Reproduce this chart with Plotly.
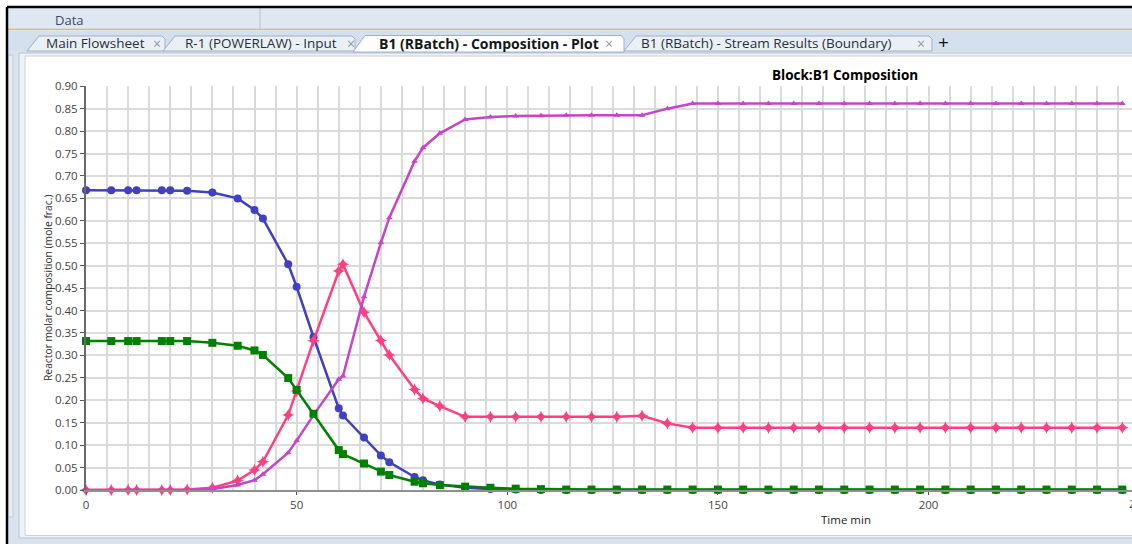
import plotly.graph_objects as go

W, H = 1132, 544

# Batch reactor composition profile (mole fractions vs time in minutes)
time_min = [0, 6, 10, 12, 18, 20, 24, 30, 36, 40, 42, 48, 50, 54, 60, 61, 66, 70, 72,
            78, 80, 84, 90, 96, 102, 108, 114, 120, 126, 132, 138, 144, 150, 156, 162,
            168, 174, 180, 186, 192, 198, 204, 210, 216, 222, 228, 234, 240, 246]

comp_a = [0.668, 0.668, 0.668, 0.668, 0.668, 0.668, 0.667, 0.663, 0.650, 0.624, 0.605,
          0.503, 0.453, 0.341, 0.182, 0.166, 0.117, 0.077, 0.062, 0.029, 0.022, 0.012,
          0.005, 0.002, 0.001, 0.0, 0.0, 0.0, 0.0, 0.0, 0.0, 0.0, 0.0, 0.0, 0.0, 0.0,
          0.0, 0.0, 0.0, 0.0, 0.0, 0.0, 0.0, 0.0, 0.0, 0.0, 0.0, 0.0, 0.0]

comp_b = [0.332, 0.332, 0.332, 0.332, 0.332, 0.332, 0.332, 0.328, 0.3215, 0.311, 0.301,
          0.2495, 0.223, 0.170, 0.089, 0.080, 0.059, 0.041, 0.0334, 0.0185, 0.015, 0.011,
          0.0074, 0.005, 0.003, 0.002, 0.001, 0.001, 0.001, 0.001, 0.001, 0.001, 0.001,
          0.001, 0.001, 0.001, 0.001, 0.001, 0.001, 0.001, 0.001, 0.001, 0.001, 0.001,
          0.001, 0.001, 0.001, 0.001, 0.001]

comp_c = [0.0, 0.0, 0.0, 0.0, 0.0, 0.0, 0.001, 0.005, 0.021, 0.0445, 0.063, 0.167,
          0.2205, 0.3326, 0.488, 0.503, 0.396, 0.333, 0.301, 0.224, 0.204, 0.187, 0.163,
          0.163, 0.163, 0.163, 0.163, 0.163, 0.163, 0.1655, 0.1485, 0.139, 0.139, 0.139,
          0.139, 0.139, 0.139, 0.139, 0.139, 0.139, 0.139, 0.139, 0.139, 0.139, 0.139,
          0.139, 0.139, 0.139, 0.139]

comp_d = [0.0, 0.0, 0.0, 0.0, 0.0, 0.0, 0.0, 0.002, 0.011, 0.022, 0.035, 0.083, 0.110,
          0.167, 0.247, 0.254, 0.431, 0.551, 0.607, 0.733, 0.763, 0.795, 0.826, 0.8316,
          0.8338, 0.834, 0.8354, 0.8354, 0.8354, 0.8354, 0.850, 0.8614, 0.8614, 0.8614,
          0.8614, 0.8614, 0.8614, 0.8614, 0.8614, 0.8614, 0.8614, 0.8614, 0.8614, 0.8614,
          0.8614, 0.8614, 0.8614, 0.8614, 0.8614]

y_ticks = [i * 0.05 for i in range(19)]
x_ticks = [0, 50, 100, 150, 200]

tab_titles = ["Main Flowsheet", "R-1 (POWERLAW) - Input",
              "B1 (RBatch) - Composition - Plot", "B1 (RBatch) - Stream Results (Boundary)"]

FONT = "Open Sans"


def px(x):
    return x / W


def py(y):
    return 1 - y / H


def rect(x0, y0, x1, y1, fill, line=None, lw=1):
    return dict(type="rect", xref="paper", yref="paper", layer="below",
                x0=px(x0), x1=px(x1), y0=py(y1), y1=py(y0),
                fillcolor=fill,
                line=dict(color=line if line else fill, width=lw if line else 0))


def seg(x0, y0, x1, y1, color, lw=1):
    return dict(type="line", xref="paper", yref="paper", layer="below",
                x0=px(x0), x1=px(x1), y0=py(y0), y1=py(y1),
                line=dict(color=color, width=lw))


def poly(points, fill, line):
    d = "M " + " L ".join(f"{px(x):.5f} {py(y):.5f}" for x, y in points) + " Z"
    return dict(type="path", xref="paper", yref="paper", layer="below", path=d,
                fillcolor=fill, line=dict(color=line, width=1))


shapes = []
# application ribbon strip
shapes.append(rect(8, 8, W, 29, "#dfe7f2"))
shapes.append(seg(260, 8, 260, 29, "#b4c1d2", 1))
shapes.append(seg(8, 29.5, W, 29.5, "#e3b865", 1.5))
# tab strip
shapes.append(rect(8, 30.5, W, 52, "#d4e0ee"))
# document frame
shapes.append(rect(8, 51, W, H, "#d9e3ee"))
shapes.append(rect(8, 55, 13, 517, "#e8ebef", "#c3cad3"))
shapes.append(rect(19, 53, W + 5, 538, "#eef3f8", "#b6c3d2"))
shapes.append(rect(25, 56, W + 5, 535.5, "#ffffff", "#c8d0da"))
# tabs
tab_geo = [(27, 165), (163, 355), (624, 932)]
for x0, x1 in tab_geo:
    shapes.append(poly([(x0, 51), (x0 + 12, 36), (x1 - 3, 36), (x1, 39), (x1, 51)],
                       "#ebf0f7", "#9eb0c6"))
shapes.append(poly([(353, 52), (365, 35.5), (621, 35.5), (624, 38.5), (624, 52)],
                   "#ffffff", "#9eb0c6"))
# window border
shapes.append(seg(7, 7, W, 7, "#000000", 2.5))
shapes.append(seg(7, 7, 7, H, "#000000", 2.5))

annotations = []


def label(text, x, y, size=12, color="#1f2b3a", bold=False, xanchor="left", **kw):
    if bold:
        text = f"<b>{text}</b>"
    annotations.append(dict(text=text, x=px(x), y=py(y), xref="paper", yref="paper",
                            xanchor=xanchor, yanchor="middle", showarrow=False,
                            font=dict(family=FONT, size=size, color=color), **kw))


label("Data", 53, 20, size=13, color="#3a4a60")
tab_text_x = [44, 183, 377, 639]
tab_close_x = [157, 351, 609, 921]
for i, (t, tx, cx) in enumerate(zip(tab_titles, tab_text_x, tab_close_x)):
    label(t, tx, 43, size=14 if i == 2 else 13.5, bold=(i == 2),
          color="#111820" if i == 2 else "#24303e")
    label("×", cx, 43, size=14, color="#8d97a3", xanchor="center")
label("+", 943, 42, size=19, color="#111111", xanchor="center")

# chart title and axis titles
label("Block:B1 Composition", 845, 75, size=13.5, bold=True, color="#000000", xanchor="center")
label("Time min", 846, 519, size=11.5, color="#222222", xanchor="center")
annotations.append(dict(text="Reactor molar composition (mole frac.)", x=px(48), y=py(288),
                        xref="paper", yref="paper", xanchor="center", yanchor="middle",
                        textangle=-90, showarrow=False,
                        font=dict(family=FONT, size=10.3, color="#333333")))
# last x tick label sits at the cut edge of the plot window
x_per_min = (W - 86) / 248.3
label("250", 86 + 250 * x_per_min, 503, size=11.5, color="#444444", xanchor="center")

fig = go.Figure()

series = [
    ("A", comp_a, "#4040c0", "circle", 8),
    ("C", comp_c, "#ff3f82", "star-diamond", 9),
    ("D", comp_d, "#c445c8", "triangle-up", 6),
    ("B", comp_b, "#008000", "square", 8),
]
for name, vals, color, symbol, size in series:
    fig.add_trace(go.Scatter(
        x=time_min, y=vals, name=name, mode="lines+markers",
        line=dict(color=color, width=2.5),
        marker=dict(symbol=symbol, size=size, color=color, line=dict(width=0)),
        cliponaxis=False, showlegend=False,
    ))

grid_col = "#dadada"
fig.update_layout(
    width=W, height=H,
    margin=dict(l=0, r=0, t=0, b=0, pad=0, autoexpand=False),
    paper_bgcolor="#ffffff",
    plot_bgcolor="rgba(0,0,0,0)",
    shapes=shapes,
    annotations=annotations,
    showlegend=False,
    xaxis=dict(
        domain=[px(86), 1.0], range=[0, 248.3],
        tickmode="array", tickvals=x_ticks, ticktext=[str(v) for v in x_ticks],
        showgrid=True, gridcolor=grid_col, gridwidth=1.5,
        minor=dict(dtick=5, tick0=0, showgrid=True, gridcolor=grid_col, gridwidth=1.5),
        showline=True, linecolor="#8f8f8f", linewidth=2,
        ticks="outside", ticklen=3, tickcolor="#555555",
        zeroline=False, automargin=False,
        tickfont=dict(family=FONT, size=11.5, color="#444444"),
    ),
    yaxis=dict(
        domain=[1 - 490 / H, 1 - 86 / H], range=[0, 0.9005],
        tickmode="array", tickvals=y_ticks, ticktext=[f"{v:.2f}" for v in y_ticks],
        showgrid=True, gridcolor=grid_col, gridwidth=1.5,
        showline=True, linecolor="#6a6a6a", linewidth=2,
        ticks="outside", ticklen=4, tickcolor="#555555",
        zeroline=False, automargin=False,
        tickfont=dict(family=FONT, size=11.5, color="#444444"),
    ),
)

fig.write_html("out.html", config={"displayModeBar": False})
